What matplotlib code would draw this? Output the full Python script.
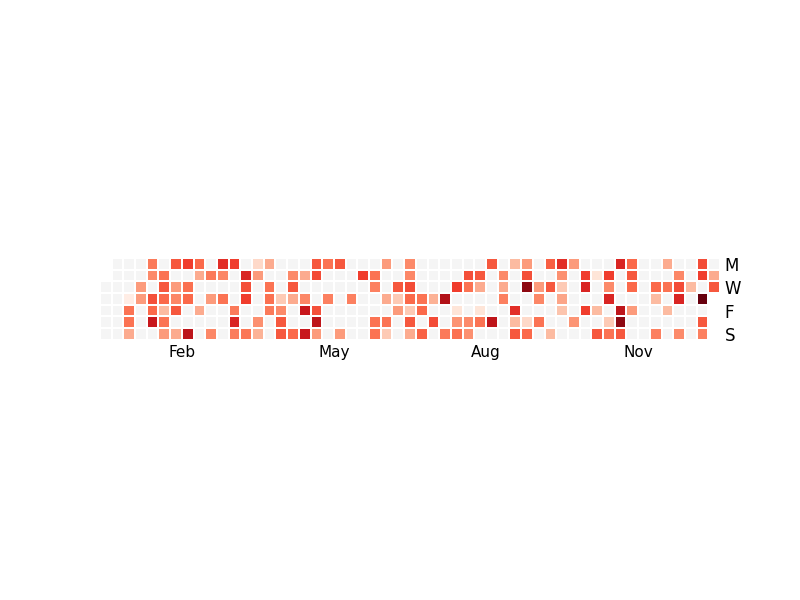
import numpy as np
import matplotlib.pyplot as plt
from matplotlib.colors import ListedColormap

# Daily intensity, one list per weekday (Mon..Sun), one entry per week column.
# 0 = no activity (drawn grey), nan = day outside the year
nan = np.nan
mon = [nan, 0, 0, 0, 4.5, 0, 5.5, 6.2, 5, 0, 6.7, 6.2, 0, 1.5, 3, 0, 0, 0, 5.5, 4.7,
       5.5, 0, 0, 0, 3.5, 0, 4, 0, 0, 0, 0, 0, 0, 5.5, 0, 2.5, 3.5, 0, 5.3, 6.7,
       3.5, 0, 0, 0, 7, 5, 0, 0, 3, 0, 0, 5.8, 0]
tue = [nan, 0, 0, 0, 4, 4.7, 0, 0, 3, 4.5, 4.1, 0, 7, 3.5, 0, 0, 4, 3, 5.8, 0,
       0, 0, 6.2, 4.7, 0, 0, 4.1, 0, 0, 0, 0, 5.7, 5.5, 0, 4, 0, 5.7, 0, 0, 3.8,
       0, 6.2, 1, 6.2, 0, 5.5, 0, 0, 0, 4.1, 0, 6.2, 3]
wed = [0, 0, 0, 3.5, 0, 5.5, 3.5, 4.8, 0, 0, 0, 0, 5.7, 0, 4.7, 0, 5.5, 0, 0, 0,
       0, 0, 0, 4.3, 0, 5.5, 5.8, 0, 0, 0, 6.2, 4.7, 3, 0, 3, 0, 9.2, 3.5, 5.5, 2,
       0, 7, 0, 4, 0, 5, 0, 5, 4.7, 5.8, 2.5, 0, 5.5]
thu = [0, 0, 0.5, 3.5, 5.7, 5, 4.1, 5, 0, 3.5, 4.7, 0, 6.2, 0, 4.8, 2, 3, 4.1, 0, 4.3,
       0, 4.3, 0, 0, 3, 2, 5, 4.7, 2.8, 8.3, 0, 0, 0, 0, 4.3, 0, 0, 4.1, 0, 3.2,
       0, 0, 0, 7, 0, 0, 0, 2.5, 0, 7, 0, 10, nan]
fri = [0, 0, 4.7, 0, 5, 2.5, 5.5, 0, 3, 0, 0, 4.5, 0, 0, 4.5, 4, 0, 7.6, 5.7, 0,
       0, 0, 0, 0, 0, 3.5, 2, 5, 0, 0, 1, 0, 1, 0, 0, 6.7, 0, 0, 0, 2.2,
       0, 6.2, 2.5, 0, 7.9, 3.5, 0, 0, 2.5, 0, 0, 0, nan]
sat = [0, 0, 4.7, 0, 7.6, 4.7, 0, 0, 0, 0, 0, 7, 0, 3.8, 0, 5.5, 0, 0, 7.9, 0,
       0, 0, 0, 4.7, 4.7, 0, 5.5, 0, 5.8, 0, 3.7, 4, 4.7, 7.9, 0, 2.5, 1.5, 4.7, 0, 0,
       3.7, 0, 0, 2, 9.2, 0, 0, 0, 0, 0, 0, 5.5, nan]
sun = [0, 0, 3, 0, 0, 3.5, 3, 8, 0, 4.1, 0, 4.4, 4.6, 2.8, 0, 5.5, 5, 7.6, 3.5, 0,
       3.5, 0, 0, 4.7, 2, 0, 3, 5.2, 0, 4.5, 4.8, 3.8, 0, 0, 0, 5.5, 5, 0, 2.5, 0,
       0, 0, 5.5, 4.7, 5.5, 0, 0, 4.3, 0, 4, 0, 4.3, nan]

day_labels = ['M', '', 'W', '', 'F', '', 'S']
month_labels = ['Feb', 'May', 'Aug', 'Nov']
month_ticks = [7, 20, 33, 46]

grid = np.array([mon, tue, wed, thu, fri, sat, sun], dtype=float)
n_rows, n_cols = grid.shape

empty = np.ma.masked_where(~(grid == 0), np.zeros_like(grid))
active = np.ma.masked_where(~(grid > 0), grid)

fig = plt.figure(figsize=(8, 6), dpi=100)
ax = fig.add_axes([0.125, 0.4335, 0.775, 0.1365])
ax.pcolormesh(empty, cmap=ListedColormap(['whitesmoke']),
              edgecolors='white', linewidth=1.1)
ax.pcolormesh(active, cmap='Reds', vmin=0, vmax=10,
              edgecolors='white', linewidth=1.1)

ax.set_aspect('equal')
ax.set_xlim(0, n_cols)
ax.set_ylim(n_rows, 0)

ax.yaxis.tick_right()
ax.set_yticks(np.arange(n_rows) + 0.5)
ax.set_yticklabels(day_labels, fontsize=12)
ax.set_xticks(month_ticks)
ax.set_xticklabels(month_labels, fontsize=11)
ax.tick_params(length=0)
for s in ax.spines.values():
    s.set_visible(False)

plt.savefig('out.png')
